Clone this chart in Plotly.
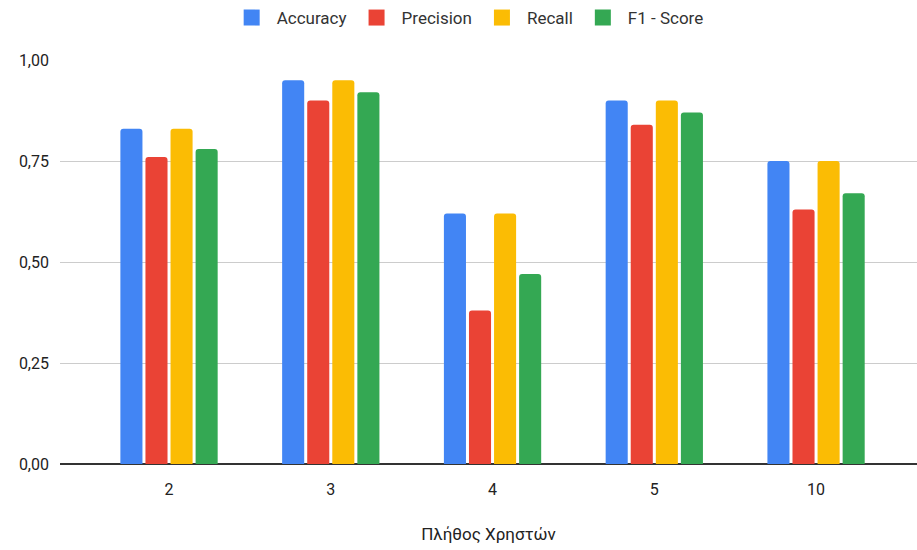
import plotly.graph_objects as go

# Number of users per experiment (category labels on the x axis)
users = ["2", "3", "4", "5", "10"]

# Classification metrics per user count
accuracy = [0.83, 0.95, 0.62, 0.90, 0.75]
precision = [0.76, 0.90, 0.38, 0.84, 0.63]
recall = [0.83, 0.95, 0.62, 0.90, 0.75]
f1_score = [0.78, 0.92, 0.47, 0.87, 0.67]

series = [
    ("Accuracy", accuracy, "#4285F4"),
    ("Precision", precision, "#EA4335"),
    ("Recall", recall, "#FBBC04"),
    ("F1 - Score", f1_score, "#34A853"),
]

fig = go.Figure()
for name, vals, color in series:
    fig.add_trace(go.Bar(
        x=users, y=vals, name=name, showlegend=False,
        marker=dict(color=color, line=dict(width=0)),
    ))

# Legend entries with larger square swatches
for name, vals, color in series:
    fig.add_trace(go.Scatter(
        x=[None], y=[None], name=name, mode="markers",
        marker=dict(symbol="square", size=16, color=color),
        hoverinfo="skip",
    ))

font_family = "Roboto, Arial, sans-serif"

fig.update_layout(
    width=917, height=550,
    paper_bgcolor="white", plot_bgcolor="white",
    margin=dict(l=60, r=0, t=60, b=86),
    barmode="group",
    bargap=0.38,
    bargroupgap=0.12,
    barcornerradius=3,
    font=dict(family=font_family, size=16, color="#222222"),
    legend=dict(
        orientation="h",
        xref="container", yref="container",
        x=0.51, xanchor="center",
        y=1.0, yanchor="top",
        font=dict(size=17, color="#333333"),
        itemwidth=40,
        itemsizing="trace",
    ),
    xaxis=dict(
        type="category",
        range=[-0.674, 4.624],
        showgrid=False,
        showline=False,
        ticks="",
        ticklabelstandoff=14,
        tickfont=dict(size=16, color="#222222"),
        title=dict(text="Πλήθος Χρηστών", standoff=30,
                   font=dict(size=17, color="#222222")),
    ),
    yaxis=dict(
        range=[0, 1.0],
        tickvals=[0, 0.25, 0.5, 0.75, 1.0],
        ticktext=["0,00", "0,25", "0,50", "0,75", "1,00"],
        showgrid=True, gridcolor="#cccccc", gridwidth=1,
        zeroline=True, zerolinecolor="#333333", zerolinewidth=1.5,
        ticks="",
        ticklabelstandoff=10,
        tickfont=dict(size=16, color="#222222"),
    ),
)

fig.write_html("out.html")
